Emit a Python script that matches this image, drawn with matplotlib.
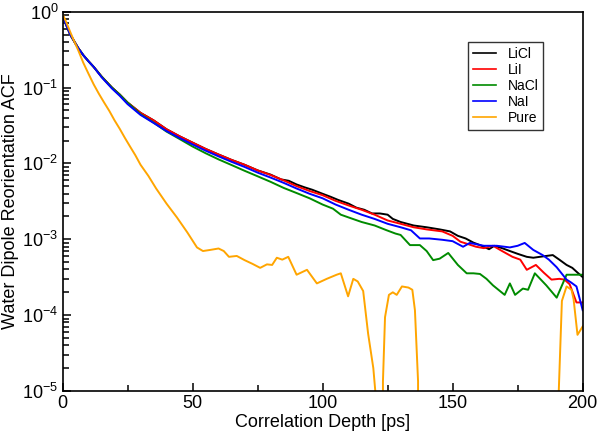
import matplotlib
matplotlib.use("Agg")
import matplotlib.pyplot as plt
from matplotlib.ticker import MultipleLocator, LogLocator, NullFormatter

plt.rcParams['font.family'] = ['Liberation Sans', 'DejaVu Sans']
plt.rcParams['mathtext.fontset'] = 'custom'
plt.rcParams['mathtext.rm'] = 'Liberation Sans'
plt.rcParams['mathtext.it'] = 'Liberation Sans:italic'
plt.rcParams['mathtext.default'] = 'regular'

# ---- data ----
t_common = [0, 1, 2, 3, 4, 6, 8, 10, 12, 15, 19, 22, 25]
v_common = [0.905, 0.726, 0.601, 0.497, 0.435, 0.333, 0.267, 0.222, 0.187, 0.140, 0.100,
            0.0808, 0.0635]

t_lii = t_common + [30, 35, 40, 45, 50, 55, 60, 65, 70, 75, 80, 85, 90, 95, 100, 105, 110, 115,
                    120, 125, 130, 135, 140, 146, 150, 153, 156, 159, 162, 165.5, 169, 173, 176,
                    178.5, 182, 185, 188, 191, 193, 195, 197.6, 200]
v_lii = v_common + [0.0464, 0.0370, 0.0282, 0.0228, 0.0188, 0.01554, 0.0131, 0.01112, 0.0096,
                    0.0081, 0.00704, 0.00598, 0.00502, 0.00433, 0.00381, 0.00321, 0.00279,
                    0.00245, 0.00211, 0.00177, 0.0016, 0.00144, 0.00135, 0.00127, 0.00111,
                    0.000928, 0.000862, 0.000797, 0.000764, 0.000821, 0.0007, 0.000587,
                    0.000539, 0.000396, 0.000459, 0.000364, 0.000294, 0.000301, 0.000294,
                    0.000255, 0.000147, 0.000147]

t_licl = t_common + [30, 35, 40, 45, 50, 55, 60, 65, 70, 75, 80, 84, 87, 90, 93, 96, 100, 103, 106,
                     110, 113, 116, 119, 122, 125, 127, 130, 135, 140, 145, 149, 152, 155, 158,
                     160.5, 164, 166, 169, 172, 175, 178.5, 181, 183.5, 186, 188.5, 191, 193.8,
                     196, 198, 200]
v_licl = v_common + [0.0464, 0.0370, 0.0282, 0.0228, 0.0188, 0.01554, 0.0131, 0.01112, 0.0096,
                     0.0081, 0.00712, 0.00616, 0.0059, 0.00528, 0.00485, 0.0045, 0.00398,
                     0.00364, 0.0033, 0.00295, 0.00261, 0.00245, 0.00219, 0.00219, 0.00211,
                     0.001855, 0.00169, 0.00152, 0.00144, 0.00135, 0.00127, 0.00111, 0.001025,
                     0.000903, 0.000838, 0.00074, 0.000821, 0.000764, 0.0007, 0.000643,
                     0.000587, 0.000571, 0.000587, 0.000603, 0.000619, 0.000539, 0.000459,
                     0.00042, 0.000364, 0.000317]

t_nai = [0, 1, 2, 3, 4, 6, 8, 10, 12, 15, 19, 22, 25, 30, 35, 40, 45, 50, 55, 60, 65, 70, 75, 80,
         85, 90, 95, 100, 105, 110, 115, 120, 125, 130, 134, 137.4, 141, 146, 150, 154, 156.6,
         162, 167, 172, 175, 177.7, 181, 184.6, 187, 190, 193.8, 195.5, 197.6, 200]
v_nai = [0.905, 0.726, 0.601, 0.497, 0.435, 0.333, 0.267, 0.222, 0.187, 0.1373, 0.0973, 0.0779,
         0.0606, 0.0436, 0.0342, 0.0267, 0.02166, 0.0178, 0.01473, 0.01239, 0.0105, 0.00899,
         0.00757, 0.00651, 0.00555, 0.00467, 0.00398, 0.00347, 0.00287, 0.00245, 0.00211,
         0.001855, 0.0016, 0.00144, 0.001313, 0.001025, 0.001025, 0.000985, 0.000944,
         0.000797, 0.000895, 0.000821, 0.000821, 0.000781, 0.000821, 0.000895, 0.000724,
         0.000619, 0.000539, 0.000428, 0.000294, 0.00027, 0.000239, 0.000116]

t_nacl = t_common + [30, 35, 40, 45, 50, 55, 60, 65, 70, 75, 80, 85, 90, 95, 100, 104, 107, 110,
                     115, 120, 124.5, 128, 130, 133.6, 137.4, 140, 142.5, 145, 148.3, 152, 155.4,
                     158, 160.5, 163, 165.5, 170, 172, 174, 177, 179, 181.6, 186, 190, 193.8, 200]
v_nacl = v_common + [0.0445, 0.0346, 0.02627, 0.0210, 0.01672, 0.01364, 0.0113, 0.00952, 0.0080,
                     0.00677, 0.00572, 0.00476, 0.00407, 0.00347, 0.00287, 0.00253, 0.00211,
                     0.00194, 0.00169, 0.00152, 0.00132, 0.00119, 0.00114, 0.000838, 0.000838,
                     0.0007, 0.000531, 0.000555, 0.00066, 0.000459, 0.000356, 0.000356,
                     0.000349, 0.000301, 0.000247, 0.000185, 0.000262, 0.000185, 0.000224,
                     0.000216, 0.000356, 0.000247, 0.00017, 0.000341, 0.000341]

t_pure = [0, 1, 2, 3, 4, 6, 8, 10, 12, 14, 16, 18, 20, 22, 24, 26, 28, 30, 33, 36, 40, 44, 48,
          51.7, 54, 56.8, 60, 62, 64, 67, 70, 73, 76, 78.6, 80.6, 82.4, 84.5, 86.8, 90, 94, 97.8,
          101.6, 105.4, 107, 109.8, 111.8, 113.5, 115.6, 117.5, 119.5, 120.5, 121.5, 122.5, 123.2,
          124, 125.5, 127, 128.5, 130.5, 133, 134.5, 135.5, 136.7, 137.5, 190, 190.8, 192, 193.8,
          195.7, 196.5, 198, 200]
v_pure = [0.926, 0.789, 0.653, 0.538, 0.446, 0.313, 0.212, 0.152, 0.110, 0.0827, 0.0635, 0.0492,
          0.0370, 0.0286, 0.02166, 0.01663, 0.01283, 0.0096, 0.00686, 0.00467, 0.00295, 0.00194,
          0.00123, 0.000781, 0.0007, 0.000724, 0.000756, 0.0007, 0.000587, 0.000603, 0.000531,
          0.000475, 0.00042, 0.000467, 0.000459, 0.000571, 0.000539, 0.000587, 0.000341,
          0.000396, 0.000262, 0.000301, 0.000341, 0.000356, 0.000177, 0.000301, 0.000278,
          0.000208, 5.7e-5, 2.0e-5, 8e-6, -5e-5, -5e-5, 1.34e-5, 9.4e-5, 0.000185, 0.0002,
          0.000185, 0.000239, 0.000231, 0.000216, 0.000116, 1.34e-5, -5e-5, -5e-5, 1.0e-5,
          0.000154, 0.000239, 0.000216, 0.000162, 5.5e-5, 7.1e-5]

series = [
    ("LiCl", t_licl, v_licl, "#000000"),
    ("LiI", t_lii, v_lii, "#ff0000"),
    ("NaCl", t_nacl, v_nacl, "#008b00"),
    ("NaI", t_nai, v_nai, "#0000ff"),
    ("Pure", t_pure, v_pure, "#ffa500"),
]

fig = plt.figure(figsize=(6.0, 4.36), dpi=100)
ax = fig.add_axes([62.5 / 600, 1 - 391 / 436, 520.2 / 600, 379.3 / 436])

for name, t, v, c in series:
    ax.plot(t, v, color=c, lw=1.4, label=name)

ax.set_yscale('log', nonpositive='clip')
ax.set_xlim(0, 200)
ax.set_ylim(1e-5, 1)

ax.xaxis.set_major_locator(MultipleLocator(50))
ax.xaxis.set_minor_locator(MultipleLocator(25))
ax.yaxis.set_major_locator(LogLocator(base=10, numticks=10))
ax.yaxis.set_minor_locator(LogLocator(base=10, subs=range(2, 10), numticks=20))
ax.yaxis.set_minor_formatter(NullFormatter())

ax.tick_params(which='both', direction='in', top=False, right=False, labelsize=13, width=1.1)
ax.tick_params(which='major', length=5.5, pad=3)
ax.tick_params(which='minor', length=4.5)
for s in ax.spines.values():
    s.set_linewidth(1.2)

ax.set_xlabel("Correlation Depth [ps]", fontsize=13, labelpad=1)
ax.set_ylabel("Water Dipole Reorientation ACF", fontsize=13, labelpad=2)

leg = ax.legend(loc='upper left', bbox_to_anchor=(0.7795, 0.921), borderaxespad=0,
                fontsize=10, frameon=True, fancybox=False, edgecolor='black',
                handlelength=1.7, handletextpad=0.8, labelspacing=0.15,
                borderpad=0.35)
leg.get_frame().set_linewidth(1.0)
for l in leg.get_lines():
    l.set_linewidth(1.2)

fig.savefig("out.png", dpi=100)
